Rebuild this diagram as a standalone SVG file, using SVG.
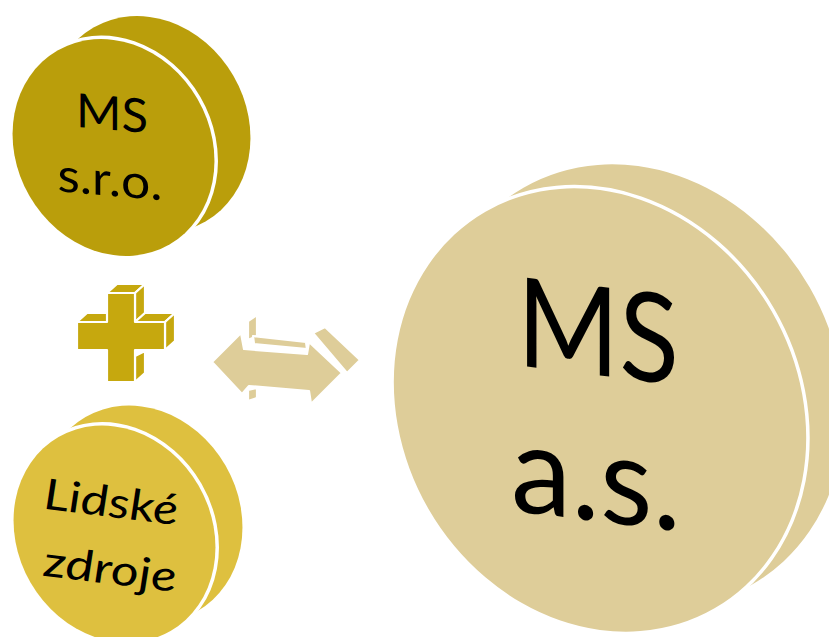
<svg xmlns="http://www.w3.org/2000/svg" width="829" height="637" viewBox="0 0 829 637">
  <defs>
    <style>
      .gap { stroke: #ffffff; stroke-width: 7; paint-order: stroke; }
      .face { stroke: #ffffff; stroke-width: 2.2; stroke-linejoin: round; }
      .lbl { font-family: Lato, "Liberation Sans", sans-serif; fill: #000000; text-anchor: middle; }
      .olive { fill: #BA9E0B; }
      .gold { fill: #DEC03F; }
      .sand { fill: #DECD99; }
      .plusc { fill: #C6A80E; }
    </style>
  </defs>

  <rect width="829" height="637" fill="#ffffff"/>

  <!-- Disc: MS s.r.o. (back face, then front face with a white rim) -->
  <g id="disc-ms-sro">
    <ellipse class="olive" cx="0" cy="0" rx="97" ry="112" transform="translate(149.5,124.5) rotate(-30)"/>
    <ellipse class="olive gap" cx="0" cy="0" rx="97" ry="112" transform="translate(113.5,147.5) rotate(-30)"/>
    <g transform="translate(112,0) skewY(5) translate(-112,0)">
      <text class="lbl" x="112" y="130" font-size="47" textLength="72" lengthAdjust="spacingAndGlyphs">MS</text>
      <text class="lbl" x="110" y="196" font-size="47" textLength="105" lengthAdjust="spacingAndGlyphs">s.r.o.</text>
    </g>
  </g>

  <!-- Disc: Lidské zdroje -->
  <g id="disc-lidske-zdroje">
    <ellipse class="gold" cx="0" cy="0" rx="97" ry="112" transform="translate(141.5,514) rotate(-30)"/>
    <ellipse class="gold gap" cx="0" cy="0" rx="97" ry="112" transform="translate(114.5,534) rotate(-30)"/>
    <g transform="translate(111,0) skewY(7) translate(-111,0)">
      <text class="lbl" x="111" y="517" font-size="43" font-style="italic" textLength="134" lengthAdjust="spacingAndGlyphs">Lidské</text>
      <text class="lbl" x="110" y="584" font-size="43" font-style="italic" textLength="133" lengthAdjust="spacingAndGlyphs">zdroje</text>
    </g>
  </g>

  <!-- Disc: MS a.s. -->
  <g id="disc-ms-as">
    <ellipse class="sand" cx="0" cy="0" rx="198" ry="229" transform="translate(638,386) rotate(-30)"/>
    <ellipse class="sand gap" cx="0" cy="0" rx="198" ry="229" transform="translate(600,410) rotate(-30)"/>
    <g transform="translate(597,0) skewY(7) translate(-597,0)">
      <text class="lbl" x="598" y="375" font-size="124" textLength="162" lengthAdjust="spacingAndGlyphs">MS</text>
      <text class="lbl" x="596" y="521" font-size="124" textLength="170" lengthAdjust="spacingAndGlyphs">a.s.</text>
    </g>
  </g>

  <!-- Plus sign, extruded -->
  <g id="plus" class="plusc">
    <polygon class="face" points="77,322 107,322 117,313 87,313"/>
    <polygon class="face" points="107,293 135,293 145,284 117,284"/>
    <polygon class="face" points="135,293 145,284 145,313 135,322"/>
    <polygon class="face" points="135,322 165,322 175,313 145,313"/>
    <polygon class="face" points="165,322 175,313 175,341 165,350"/>
    <polygon class="face" points="135,356 145,351 145,373 135,382"/>
    <polygon class="face" points="107,293 135,293 135,322 165,322 165,350 135,350 135,382 107,382 107,350 77,350 77,322 107,322"/>
  </g>

  <!-- Connectors -->
  <g id="connectors">
    <g id="arrow-double" class="sand">
      <polygon class="face" points="248,321 257,315 257,336 248,340"/>
      <polygon class="face" points="253,336 306,342 307,349 254,344"/>
      <polygon class="face" points="313,333 325,327 360,360 347,373"/>
      <polygon class="face" points="248,390 257,388 257,398 248,401"/>
      <polygon class="face" points="212,362 241,333 244,349 307,354 309,342 342,373 311,404 309,391 249,386 242,394"/>
    </g>
  </g>
</svg>
